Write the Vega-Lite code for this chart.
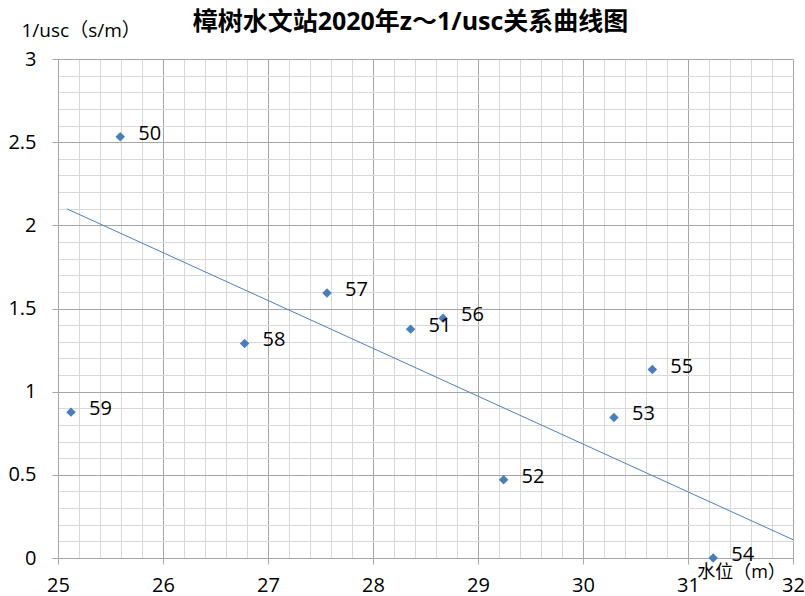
{
  "$schema": "https://vega.github.io/schema/vega-lite/v6.json",
  "width": 735,
  "height": 499,
  "autosize": "none",
  "padding": {"left": 58, "top": 59, "right": 12, "bottom": 38},
  "background": "white",
  "config": {
    "view": {"stroke": null},
    "font": "Open Sans, Noto Sans CJK SC",
    "axis": {"labelColor": "black", "titleColor": "black"}
  },
  "title": {
    "text": "樟树水文站2020年z～1/usc关系曲线图",
    "font": "Open Sans, Noto Sans CJK SC",
    "fontSize": 25,
    "fontWeight": "bold",
    "color": "black",
    "anchor": "middle",
    "frame": "group",
    "baseline": "middle",
    "dx": -15,
    "offset": 0,
    "dy": 26
  },
  "datasets": {
    "stations": [
      {"z": 25.593, "inv": 2.532, "label": "50"},
      {"z": 28.358, "inv": 1.376, "label": "51"},
      {"z": 29.244, "inv": 0.471, "label": "52"},
      {"z": 30.295, "inv": 0.845, "label": "53"},
      {"z": 31.24, "inv": 0.0, "label": "54"},
      {"z": 30.66, "inv": 1.133, "label": "55"},
      {"z": 28.667, "inv": 1.442, "label": "56"},
      {"z": 27.562, "inv": 1.593, "label": "57"},
      {"z": 26.777, "inv": 1.29, "label": "58"},
      {"z": 25.124, "inv": 0.877, "label": "59"}
    ],
    "trend": [
      {"z": 25.085, "inv": 2.099},
      {"z": 32.0, "inv": 0.11}
    ]
  },
  "layer": [
    {
      "data": {"name": "trend"},
      "mark": {"type": "line", "color": "#4f81bd", "strokeWidth": 1},
      "encoding": {
        "x": {
          "field": "z",
          "type": "quantitative",
          "scale": {"domain": [25, 32], "nice": false, "zero": false},
          "axis": {
            "orient": "bottom",
            "values": [25.2, 25.4, 25.6, 25.8, 26.2, 26.4, 26.6, 26.8, 27.2, 27.4, 27.6, 27.8, 28.2, 28.4, 28.6, 28.8, 29.2, 29.4, 29.6, 29.8, 30.2, 30.4, 30.6, 30.8, 31.2, 31.4, 31.6, 31.8],
            "grid": true,
            "gridColor": "#d9d9d9",
            "gridWidth": 1,
            "labels": false,
            "ticks": false,
            "domain": false,
            "title": null
          }
        },
        "y": {
          "field": "inv",
          "type": "quantitative",
          "scale": {"domain": [0, 3], "nice": false, "zero": false},
          "axis": {
            "orient": "left",
            "values": [0.1, 0.2, 0.3, 0.4, 0.6, 0.7, 0.8, 0.9, 1.1, 1.2, 1.3, 1.4, 1.6, 1.7, 1.8, 1.9, 2.1, 2.2, 2.3, 2.4, 2.6, 2.7, 2.8, 2.9],
            "grid": true,
            "gridColor": "#d9d9d9",
            "gridWidth": 1,
            "labels": false,
            "ticks": false,
            "domain": false,
            "title": null
          }
        }
      }
    },
    {
      "data": {"name": "stations"},
      "mark": {"type": "point", "shape": "diamond", "filled": true, "color": "#4a7ebb", "size": 90, "opacity": 1},
      "encoding": {
        "x": {
          "field": "z",
          "type": "quantitative",
          "axis": {
            "orient": "bottom",
            "values": [25, 26, 27, 28, 29, 30, 31, 32],
            "grid": true,
            "gridColor": "#a6a6a6",
            "gridWidth": 1,
            "ticks": true,
            "tickSize": 6,
            "tickColor": "#a6a6a6",
            "domain": true,
            "domainColor": "#a6a6a6",
            "labelFontSize": 20,
            "labelPadding": 11,
            "labelFlush": false,
            "format": "d",
            "title": "水位（m）",
            "titleFontSize": 18,
            "titleFontWeight": "normal",
            "titleX": 683,
            "titleY": 14,
            "titleAlign": "center",
            "titleBaseline": "middle"
          }
        },
        "y": {
          "field": "inv",
          "type": "quantitative",
          "axis": {
            "orient": "left",
            "values": [0, 0.5, 1, 1.5, 2, 2.5, 3],
            "grid": true,
            "gridColor": "#a6a6a6",
            "gridWidth": 1,
            "ticks": true,
            "tickSize": 6,
            "tickColor": "#a6a6a6",
            "domain": true,
            "domainColor": "#a6a6a6",
            "labelFontSize": 20,
            "labelPadding": 16,
            "labelFlush": false,
            "format": "~g",
            "title": "1/usc（s/m）",
            "titleFontSize": 19,
            "titleFontWeight": "normal",
            "titleAngle": 0,
            "titleX": -37,
            "titleY": -29,
            "titleAlign": "left",
            "titleBaseline": "middle"
          }
        }
      }
    },
    {
      "data": {"name": "stations"},
      "mark": {"type": "text", "align": "left", "baseline": "middle", "dx": 18, "dy": -3, "fontSize": 20, "color": "black"},
      "encoding": {
        "x": {"field": "z", "type": "quantitative", "axis": null},
        "y": {"field": "inv", "type": "quantitative", "axis": null},
        "text": {"field": "label"}
      }
    }
  ],
  "resolve": {"axis": {"x": "independent", "y": "independent"}}
}
